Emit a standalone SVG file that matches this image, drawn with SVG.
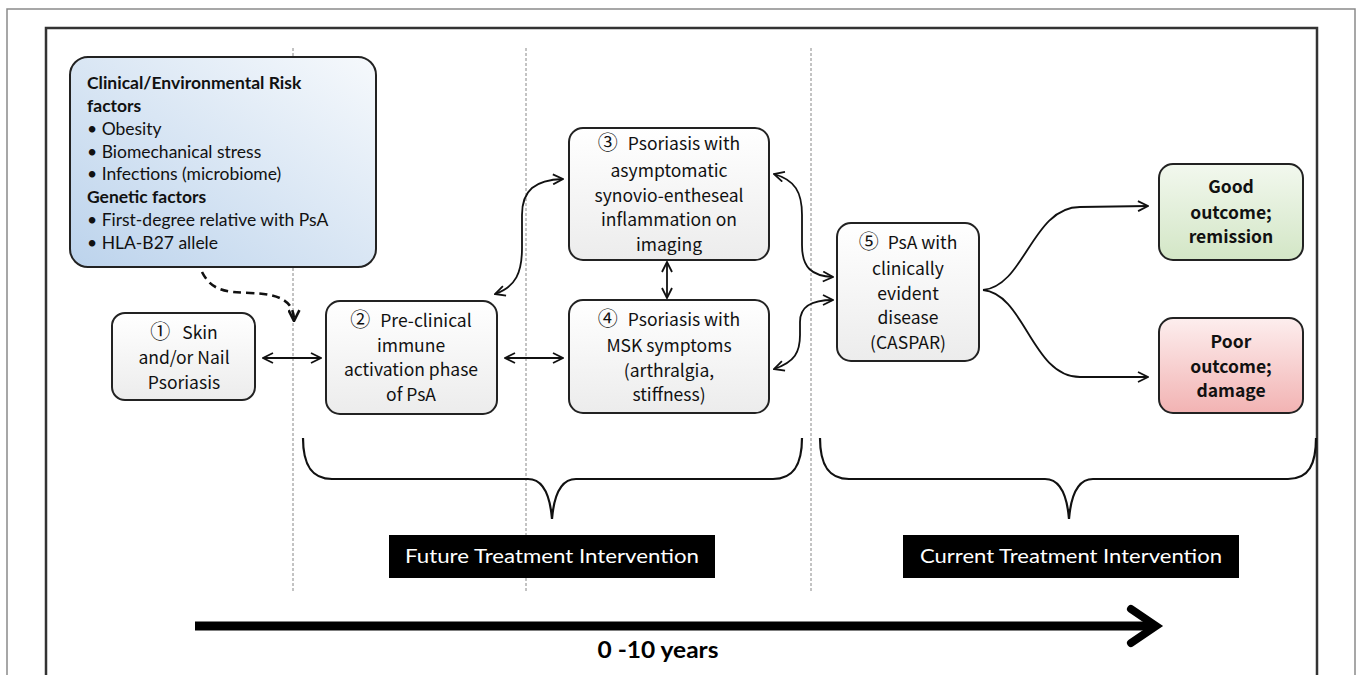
<svg xmlns="http://www.w3.org/2000/svg" width="1357" height="675" viewBox="0 0 1357 675">
<defs>
<linearGradient id="gBlue" x1="1" y1="0" x2="0" y2="1"><stop offset="0" stop-color="#f6f9fc"/><stop offset="1" stop-color="#bcd3ec"/></linearGradient>
<linearGradient id="gGray" x1="0" y1="0" x2="0" y2="1"><stop offset="0" stop-color="#ffffff"/><stop offset="1" stop-color="#ececec"/></linearGradient>
<linearGradient id="gGreen" x1="0" y1="0" x2="0" y2="1"><stop offset="0" stop-color="#f2f8ee"/><stop offset="1" stop-color="#d3e6c6"/></linearGradient>
<linearGradient id="gRed" x1="0" y1="0" x2="0" y2="1"><stop offset="0" stop-color="#fdeeee"/><stop offset="1" stop-color="#f2b3b3"/></linearGradient>
<marker id="arr" viewBox="0 0 12 12" refX="11" refY="6" markerWidth="12" markerHeight="12" markerUnits="userSpaceOnUse" orient="auto-start-reverse"><path d="M1,1 L11,6 L1,11" fill="none" stroke="#111" stroke-width="1.8"/></marker>
<marker id="arrD" viewBox="0 0 12 12" refX="11" refY="6" markerWidth="13" markerHeight="13" markerUnits="userSpaceOnUse" orient="auto"><path d="M1,1 L11,6 L1,11" fill="none" stroke="#111" stroke-width="2.4"/></marker>
</defs>
<style>
.box{stroke:#222;stroke-width:2}
.nt{font-family:"Noto Sans CJK JP","Noto Sans",sans-serif;font-size:17.5px;fill:#111;text-anchor:middle}
.cn{font-size:20px}
.bt{font-weight:bold}
.rt{font-family:Lato,"Liberation Sans",sans-serif;font-size:17.5px;fill:#111}
.vd{stroke:#888;stroke-width:1;stroke-dasharray:3,2;fill:none}
.con{fill:none;stroke:#111;stroke-width:1.8}
.brace{fill:none;stroke:#111;stroke-width:2.2}
.lbl{fill:#000}
.lt{font-family:Lato,"Liberation Sans",sans-serif;font-size:19.5px;fill:#fff;text-anchor:middle}
</style>
<rect x="0" y="0" width="1357" height="675" fill="#fff"/>
<g id="frame">
<path d="M7,680 L7,9 L1355,9 L1355,680" fill="none" stroke="#8a8a8a" stroke-width="1.5"/>
<path d="M46,680 L46,28 L1317,28 L1317,680" fill="none" stroke="#333" stroke-width="2.5"/>
</g>
<g id="dividers">
<line class="vd" x1="293" y1="48" x2="293" y2="591"/>
<line class="vd" x1="526" y1="48" x2="526" y2="591"/>
<line class="vd" x1="811" y1="48" x2="811" y2="591"/>
</g>
<g id="risk">
<rect class="box" x="70" y="57" width="306" height="210" rx="18" fill="url(#gBlue)"/>
<text class="rt bt" x="87" y="89">Clinical/Environmental Risk</text>
<text class="rt bt" x="87" y="112">factors</text>
<text class="rt" x="87" y="135">• Obesity</text>
<text class="rt" x="87" y="158">• Biomechanical stress</text>
<text class="rt" x="87" y="180">• Infections (microbiome)</text>
<text class="rt bt" x="87" y="203">Genetic factors</text>
<text class="rt" x="87" y="226">• First-degree relative with PsA</text>
<text class="rt" x="87" y="249">• HLA-B27 allele</text>
</g>
<g id="n1">
<rect class="box" x="112" y="313" width="143" height="87" rx="13" fill="url(#gGray)"/>
<text class="nt" x="184" y="339"><tspan class="cn">①</tspan><tspan dx="12">Skin</tspan></text>
<text class="nt" x="184" y="364">and/or Nail</text>
<text class="nt" x="184" y="389">Psoriasis</text>
</g>
<g id="n2">
<rect class="box" x="326" y="301" width="171" height="113" rx="14" fill="url(#gGray)"/>
<text class="nt" x="411" y="327"><tspan class="cn">②</tspan><tspan dx="10">Pre-clinical</tspan></text>
<text class="nt" x="411" y="352">immune</text>
<text class="nt" x="411" y="376">activation phase</text>
<text class="nt" x="411" y="401">of PsA</text>
</g>
<g id="n3">
<rect class="box" x="569" y="128" width="200" height="132" rx="14" fill="url(#gGray)"/>
<text class="nt" x="669" y="150"><tspan class="cn">③</tspan><tspan dx="10">Psoriasis with</tspan></text>
<text class="nt" x="669" y="177">asymptomatic</text>
<text class="nt" x="669" y="202">synovio-entheseal</text>
<text class="nt" x="669" y="226">inflammation on</text>
<text class="nt" x="669" y="251">imaging</text>
</g>
<g id="n4">
<rect class="box" x="569" y="300" width="200" height="113" rx="14" fill="url(#gGray)"/>
<text class="nt" x="669" y="326"><tspan class="cn">④</tspan><tspan dx="10">Psoriasis with</tspan></text>
<text class="nt" x="669" y="352">MSK symptoms</text>
<text class="nt" x="669" y="377">(arthralgia,</text>
<text class="nt" x="669" y="401">stiffness)</text>
</g>
<g id="n5">
<rect class="box" x="837" y="223" width="142" height="138" rx="14" fill="url(#gGray)"/>
<text class="nt" x="908" y="249"><tspan class="cn">⑤</tspan><tspan dx="9">PsA with</tspan></text>
<text class="nt" x="908" y="275">clinically</text>
<text class="nt" x="908" y="300">evident</text>
<text class="nt" x="908" y="324">disease</text>
<text class="nt" x="908" y="349">(CASPAR)</text>
</g>
<g id="good">
<rect class="box" x="1159" y="164" width="144" height="96" rx="14" fill="url(#gGreen)"/>
<text class="nt bt" x="1231" y="193">Good</text>
<text class="nt bt" x="1231" y="219">outcome;</text>
<text class="nt bt" x="1231" y="243">remission</text>
</g>
<g id="poor">
<rect class="box" x="1159" y="318" width="144" height="95" rx="14" fill="url(#gRed)"/>
<text class="nt bt" x="1231" y="348">Poor</text>
<text class="nt bt" x="1231" y="373">outcome;</text>
<text class="nt bt" x="1231" y="397">damage</text>
</g>
<g id="connectors">
<path d="M202,272 C212,292 228,292 250,293 C282,294 294,302 294,321" fill="none" stroke="#111" stroke-width="2.6" stroke-dasharray="8,5" marker-end="url(#arrD)"/>
<path class="con" d="M263,358 L321,358" marker-start="url(#arr)" marker-end="url(#arr)"/>
<path class="con" d="M505,358 L563,358" marker-start="url(#arr)" marker-end="url(#arr)"/>
<path class="con" d="M495,294 C516,287 522,272 522,248 L522,215 C522,190 535,180 563,179" marker-start="url(#arr)" marker-end="url(#arr)"/>
<path class="con" d="M667,262 L667,298" marker-start="url(#arr)" marker-end="url(#arr)"/>
<path class="con" d="M774,174 C795,180 802,192 802,215 L802,245 C802,268 812,276 833,277" marker-start="url(#arr)" marker-end="url(#arr)"/>
<path class="con" d="M774,369 C795,362 800,352 800,335 L800,322 C800,306 812,300 833,300" marker-start="url(#arr)" marker-end="url(#arr)"/>
<path class="con" d="M983,290 C1025,286 1032,207 1080,207 L1148,206" marker-end="url(#arr)"/>
<path class="con" d="M983,290 C1025,294 1032,377 1080,377 L1148,377" marker-end="url(#arr)"/>
</g>
<g id="braces">
<path class="brace" d="M303,438 C303,464 311,479 332,479 L528,479 C543,479 550,495 552,519 C554,495 561,479 576,479 L773,479 C794,479 802,464 802,438"/>
<path class="brace" d="M820,438 C820,464 828,479 849,479 L1045,479 C1060,479 1067,495 1069,519 C1071,495 1078,479 1093,479 L1288,479 C1309,479 1316,464 1316,438"/>
</g>
<g id="future">
<rect x="389" y="535" width="326" height="43" class="lbl"/>
<text class="lt" x="552" y="563" textLength="294" lengthAdjust="spacingAndGlyphs">Future Treatment Intervention</text>
</g>
<g id="current">
<rect x="903" y="535" width="336" height="43" class="lbl"/>
<text class="lt" x="1071" y="563" textLength="302" lengthAdjust="spacingAndGlyphs">Current Treatment Intervention</text>
</g>
<g id="timeline">
<line x1="195" y1="626" x2="1152" y2="626" stroke="#000" stroke-width="9"/>
<polyline points="1131,609 1156,626 1131,643" fill="none" stroke="#000" stroke-width="8" stroke-linecap="round" stroke-linejoin="miter"/>
<text x="658" y="658" font-family="Lato,'Liberation Sans',sans-serif" font-size="23" font-weight="bold" text-anchor="middle" fill="#000" textLength="121" lengthAdjust="spacingAndGlyphs">0 -10 years</text>
</g>
</svg>
